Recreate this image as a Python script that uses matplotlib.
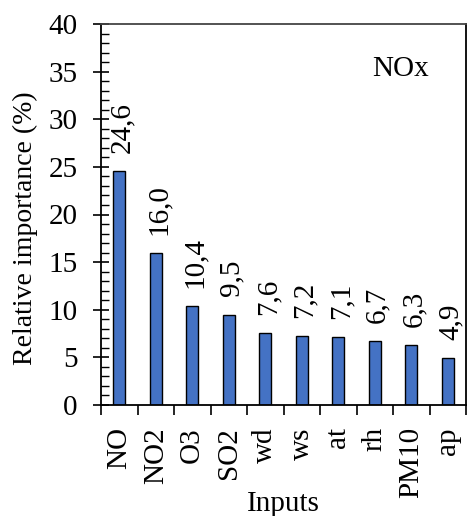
import matplotlib
matplotlib.use('Agg')
import matplotlib.pyplot as plt
import numpy as np
from matplotlib.ticker import MultipleLocator, FixedLocator

plt.rcParams['font.family'] = ['Liberation Serif', 'DejaVu Serif']

inputs = ['NO', 'NO2', 'O3', 'SO2', 'wd', 'ws', 'at', 'rh', 'PM10', 'ap']
importance = [24.6, 16.0, 10.4, 9.5, 7.6, 7.2, 7.1, 6.7, 6.3, 4.9]

W, H = 467, 516
fig = plt.figure(figsize=(W / 100, H / 100), dpi=100)
ax = fig.add_axes([101 / W, (H - 405) / H, 365 / W, 381 / H])

x = np.arange(len(inputs))
ax.bar(x, importance, width=0.33, color='#4472C4', edgecolor='black', linewidth=1.0)

ax.set_xlim(-0.5, len(inputs) - 0.5)
ax.set_ylim(0, 40)

# value labels, comma as decimal separator
for xi, v in zip(x, importance):
    ax.annotate(f"{v:.1f}".replace('.', ','), (xi, v), xytext=(2, 13),
                textcoords='offset points', rotation=90,
                ha='center', va='bottom', fontsize=21)

ax.text(0.82, 0.882, 'NOx', transform=ax.transAxes, ha='center', va='center',
        fontsize=21)

# y axis: major every 5 crossing the spine, minor every 1 inside
ax.yaxis.set_major_locator(MultipleLocator(5))
ax.yaxis.set_minor_locator(MultipleLocator(1))
ax.tick_params(axis='y', which='major', direction='inout', length=12, width=1.2,
               labelsize=21, pad=11)
ax.tick_params(axis='y', which='minor', direction='in', length=6, width=1.0)

# x axis: category labels at bar centres, ticks at category boundaries
ax.set_xticks(x)
ax.set_xticklabels(inputs, rotation=90, fontsize=21)
ax.tick_params(axis='x', which='major', length=0, pad=16)
ax.xaxis.set_minor_locator(FixedLocator(np.arange(len(inputs) + 1) - 0.5))
ax.tick_params(axis='x', which='minor', direction='out', length=7, width=1.2)

for s in ax.spines.values():
    s.set_linewidth(1.3)
ax.spines['top'].set_color('#444444')

ax.set_ylabel('Relative importance (%)', fontsize=20)
ax.yaxis.set_label_coords(-0.172, 0.465)
ax.set_xlabel('Inputs', fontsize=21, labelpad=-5)

fig.savefig('out.png', dpi=100)
